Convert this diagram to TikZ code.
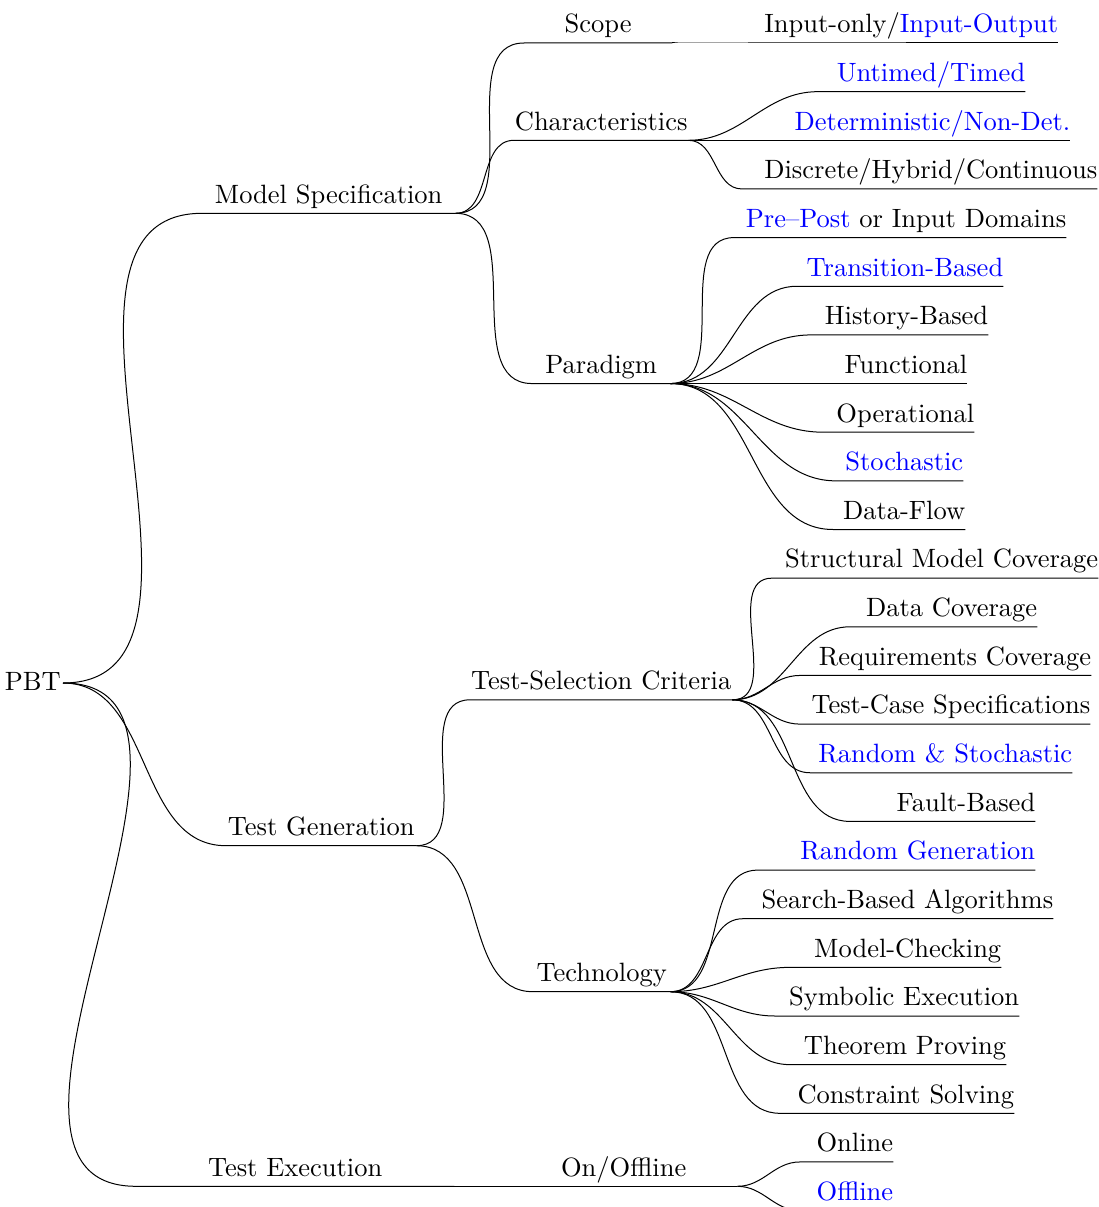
\documentclass[tikz,border=0pt]{standalone}
\usepackage{xcolor}
\usepackage{fontspec}
% the 10pt design of Latin Modern, scaled up, keeps its wider letters
\setmainfont{lmroman10-regular.otf}
\newcommand{\bluetext}[1]{\textcolor{blue}{#1}}
\begin{document}
\begin{tikzpicture}[x=1pt,y=-1pt,
  every node/.style={font=\fontsize{26.5}{31}\selectfont},
  treenode/.style={anchor=south west, inner sep=0pt, text depth=10pt, text height=19pt},
  branchnode/.style={treenode},
  leafnode/.style={treenode, align=right},
  rootnode/.style={anchor=east, inner xsep=2pt, inner ysep=0pt, text height=14pt, text depth=0pt},
  edgeline/.style={line width=1pt}]
\useasboundingbox (0,0) rectangle (1099,1207);

% root
\node[rootnode] (pbt) at (63,683) {PBT};

% first level
\node[branchnode, minimum width=253pt] (ms)  at (202,213.3)  {Model Specification};
\node[branchnode, minimum width=190pt] (tg)  at (226,845.7)  {Test Generation};
\node[branchnode, minimum width=318pt] (te)  at (136,1186.3) {Test Execution};

% second level
\node[branchnode, minimum width=148pt] (scope) at (524,43)     {Scope};
\node[branchnode, minimum width=174pt] (chars) at (514,140.3)  {Characteristics};
\node[branchnode, minimum width=138pt] (parad) at (532,383.55) {Paradigm};
\node[branchnode, minimum width=262pt] (tsel)  at (470,699.8)  {Test-Selection Criteria};
\node[branchnode, minimum width=137pt] (tech)  at (533,991.7)  {Technology};
\node[branchnode, minimum width=227pt] (onoff) at (510,1186.3) {On/Offline};

% leaves: model specification
\node[leafnode, text width=313pt] (io)  at (745,43)     {Input-only/\bluetext{Input-Output}};
\node[leafnode, text width=207pt] (ut)  at (818,91.65)  {\bluetext{Untimed/Timed}};
\node[leafnode, text width=295pt] (dn)  at (775,140.3)  {\bluetext{Deterministic/Non-Det.}};
\node[leafnode, text width=355pt] (dhc) at (742,188.95) {Discrete/Hybrid/Continuous};
\node[leafnode, text width=332pt] (pp)  at (734,237.6)  {\bluetext{Pre\textendash Post} or Input Domains};
\node[leafnode, text width=206pt] (tb)  at (797,286.25) {\bluetext{Transition-Based}};
\node[leafnode, text width=177pt] (hb)  at (811,334.9)  {History-Based};
\node[leafnode, text width=137pt] (fu)  at (830,383.55) {Functional};
\node[leafnode, text width=151pt] (op)  at (823,432.2)  {Operational};
\node[leafnode, text width=127pt] (st)  at (836,480.85) {\bluetext{Stochastic}};
\node[leafnode, text width=132pt] (df)  at (833,529.5)  {Data-Flow};

% leaves: test generation
\node[leafnode, text width=326pt] (smc) at (772,578.15) {Structural Model Coverage};
\node[leafnode, text width=187pt] (dc)  at (850,626.8)  {Data Coverage};
\node[leafnode, text width=291pt] (rc)  at (800,675.45) {Requirements Coverage};
\node[leafnode, text width=290pt] (tcs) at (800,724.1)  {Test-Case Specifications};
\node[leafnode, text width=262pt] (rs)  at (810,772.75) {\bluetext{Random \& Stochastic}};
\node[leafnode, text width=185pt] (fb)  at (850,821.4)  {Fault-Based};
\node[leafnode, text width=277pt] (rg)  at (758,870.05) {\bluetext{Random Generation}};
\node[leafnode, text width=310pt] (sba) at (743,918.7)  {Search-Based Algorithms};
\node[leafnode, text width=211pt] (mc)  at (790,967.35) {Model-Checking};
\node[leafnode, text width=244pt] (se)  at (775,1016)   {Symbolic Execution};
\node[leafnode, text width=216pt] (tp)  at (790,1064.65) {Theorem Proving};
\node[leafnode, text width=234pt] (cs)  at (780,1113.3) {Constraint Solving};

% leaves: test execution
\node[leafnode, text width=93pt] (on)  at (800,1161.95) {Online};
\node[leafnode, text width=93pt] (off) at (800,1210.6)  {\bluetext{Offline}};

% connectors: each runs into the child's underline
\foreach \c in {ms,tg,te}
  \draw[edgeline] (pbt.east) to[out=0,in=180] (\c.south west) -- (\c.south east);
\foreach \p/\c in {ms/scope, ms/chars, ms/parad,
                   scope/io,
                   chars/ut, chars/dn, chars/dhc,
                   parad/pp, parad/tb, parad/hb, parad/fu, parad/op, parad/st, parad/df,
                   tg/tsel, tg/tech,
                   tsel/smc, tsel/dc, tsel/rc, tsel/tcs, tsel/rs, tsel/fb,
                   tech/rg, tech/sba, tech/mc, tech/se, tech/tp, tech/cs,
                   te/onoff,
                   onoff/on, onoff/off}
  \draw[edgeline] (\p.south east) to[out=0,in=180] (\c.south west) -- (\c.south east);
\end{tikzpicture}
\end{document}
